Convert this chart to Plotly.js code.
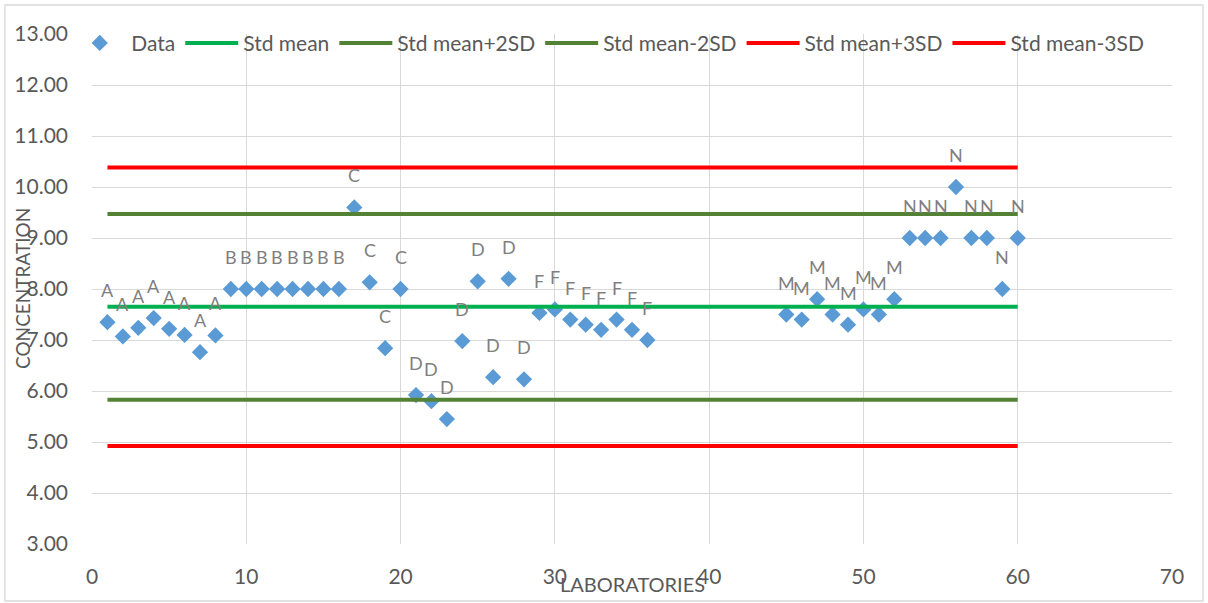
<!DOCTYPE html>
<html>
<head>
<meta charset="utf-8">
<script src="https://cdn.plot.ly/plotly-3.0.1.min.js"></script>
<style>html,body{margin:0;padding:0;background:#fff;}#chart{width:1208px;height:603px;}</style>
</head>
<body>
<div id="chart"></div>
<script>
// ---- data ----
const labs = [1,2,3,4,5,6,7,8,9,10,11,12,13,14,15,16,17,18,19,20,21,22,23,24,25,26,27,28,29,30,31,32,33,34,35,36,45,46,47,48,49,50,51,52,53,54,55,56,57,58,59,60];
const conc = [7.35,7.07,7.24,7.43,7.22,7.10,6.76,7.09,8.00,8.00,8.00,8.00,8.00,8.00,8.00,8.00,9.60,8.13,6.84,8.00,5.92,5.80,5.45,6.98,8.15,6.27,8.20,6.23,7.53,7.60,7.40,7.30,7.20,7.40,7.20,7.00,7.50,7.40,7.80,7.50,7.30,7.60,7.50,7.80,9.00,9.00,9.00,10.00,9.00,9.00,8.00,9.00];
const groups = ["A","A","A","A","A","A","A","A","B","B","B","B","B","B","B","B","C","C","C","C","D","D","D","D","D","D","D","D","F","F","F","F","F","F","F","F","M","M","M","M","M","M","M","M","N","N","N","N","N","N","N","N"];
const lineX = [1, 60];
const stdMean = 7.65;
const plus2SD = 9.47;
const minus2SD = 5.83;
const plus3SD = 10.38;
const minus3SD = 4.92;
const yTicks = [3,4,5,6,7,8,9,10,11,12,13];
const xTicks = [0,10,20,30,40,50,60,70];

const FONT = "Lato, 'Open Sans', sans-serif";
const lineTrace = (name, val, color) => ({
  type: 'scatter', mode: 'lines', name: name,
  x: lineX, y: [val, val],
  line: {color: color, width: 4}, hoverinfo: 'skip'
});

const traces = [
  {type:'scatter', mode:'markers', name:'Data', x: labs, y: conc,
   marker:{symbol:'diamond', size:12.5, color:'#5b9bd5'}},
  lineTrace('Std mean', stdMean, '#00b050'),
  lineTrace('Std mean+2SD', plus2SD, '#548235'),
  lineTrace('Std mean-2SD', minus2SD, '#548235'),
  lineTrace('Std mean+3SD', plus3SD, '#ff0000'),
  lineTrace('Std mean-3SD', minus3SD, '#ff0000')
];

const annotations = labs.map((x, i) => ({
  x: x, y: conc[i], xref:'x', yref:'y', text: groups[i], showarrow:false,
  yshift: 32, font:{family:FONT, size:18, color:'#7f7f7f'}
}));
annotations.push({xref:'paper', yref:'paper', x:0.5, y:-0.078, text:'LABORATORIES',
  showarrow:false, yanchor:'middle', font:{family:FONT, size:20, color:'#595959'}});
annotations.push({xref:'paper', yref:'paper', x:-0.0648, y:0.5, text:'CONCENTRATION', textangle:-90,
  showarrow:false, xanchor:'center', font:{family:FONT, size:19, color:'#595959'}});

const layout = {
  width:1208, height:603,
  margin:{l:92, r:36, t:34, b:59},
  paper_bgcolor:'#ffffff', plot_bgcolor:'#ffffff',
  font:{family:FONT, color:'#595959', size:21},
  showlegend:true,
  legend:{orientation:'h', x:-0.022, y:1.022, xanchor:'left', yanchor:'top',
    bgcolor:'rgba(0,0,0,0)', font:{family:FONT, size:21, color:'#595959'},
    itemwidth:53, tracegroupgap:0},
  xaxis:{range:[0,70], tickvals:xTicks, ticktext:xTicks.map(String), showgrid:true, gridcolor:'#d9d9d9', gridwidth:1,
    zeroline:false, showline:false, ticks:'', automargin:false, ticklabelstandoff:18,
    tickfont:{family:FONT, size:21, color:'#595959'}},
  yaxis:{range:[3,13], tickvals:yTicks, ticktext:yTicks.map(v=>v.toFixed(2)), showgrid:true, gridcolor:'#d9d9d9', gridwidth:1,
    zeroline:false, showline:false, ticks:'', automargin:false, ticklabelstandoff:23,
    tickfont:{family:FONT, size:21, color:'#595959'}},
  shapes:[{type:'rect', xref:'paper', yref:'paper', x0:-0.0806, x1:1.0287, y0:-0.1118, y1:1.0569,
    line:{color:'#d9d9d9', width:1.3}, fillcolor:'rgba(0,0,0,0)', layer:'below'}],
  annotations: annotations
};

Plotly.newPlot('chart', traces, layout, {displayModeBar:false, staticPlot:true});
</script>
</body>
</html>
